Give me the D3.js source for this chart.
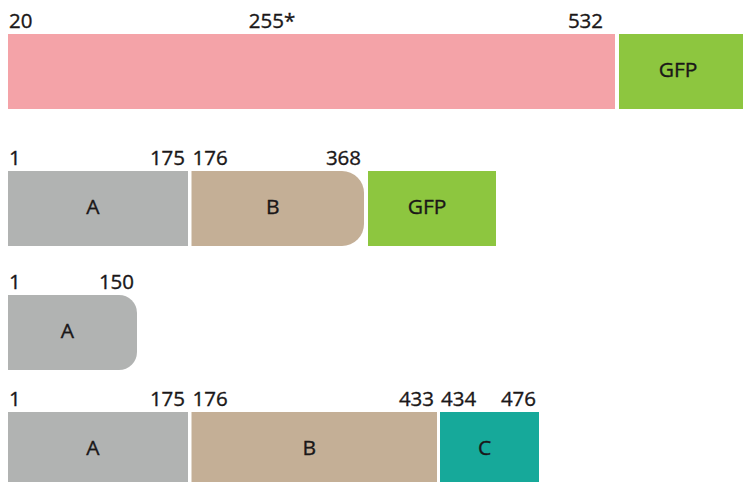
<!DOCTYPE html>
<html>
<head>
<meta charset="utf-8">
<script src="https://cdnjs.cloudflare.com/ajax/libs/d3/7.8.5/d3.min.js"></script>
<style>
  body { margin: 0; background: #fff; }
  text { font-family: "Open Sans", sans-serif; fill: #1a1718; stroke: #1a1718; stroke-width: 0.35px; }
</style>
</head>
<body>
<div id="diagram"></div>
<script>
// construct data (residue numbers)
var rowNames = ["full", "AB368", "A150", "ABC"];
var segDomain = [["full", "GFP"], ["A", "B", "GFP"], ["A"], ["A", "B", "C"]];
var segStart = [[20, null], [1, 176, null], [1], [1, 176, 434]];
var segEnd = [[532, null], [175, 368, null], [150], [175, 433, 476]];
// domain cut short at its C-terminus (drawn with a rounded end)
var segTruncated = [[false, false], [false, true, false], [true], [false, false, false]];
var segLabel = [["", "GFP"], ["A", "B", "GFP"], ["A"], ["A", "B", "C"]];
var siteRow = [0];
var sitePos = [255];
var siteText = ["255*"];

var svgWidth = 743;
var svgHeight = 482;

var svg = d3.select("#diagram")
  .append("svg")
  .attr("width", svgWidth)
  .attr("height", svgHeight);

// schematic (not to scale) residue -> x scales
var xFull = d3.scaleLinear()
  .domain([20, 255, 532])
  .range([8, 272, 615]);

var xDom = d3.scaleLinear()
  .domain([1, 150, 175, 176, 368, 433, 434, 476])
  .range([8, 137, 188, 191.5, 364, 437, 440, 539]);

var yRow = d3.scaleOrdinal()
  .domain(rowNames)
  .range([34, 171, 295, 412]);

var color = d3.scaleOrdinal()
  .domain(["full", "A", "B", "C", "GFP"])
  .range(["#f4a3a8", "#b1b3b2", "#c4af96", "#16a99a", "#8dc63f"]);

var barH = 75;
var gfpW = 128;
var gap = 4;
var sx = 1.05;

// build segment list with x positions
var segs = [];
rowNames.forEach(function(name, i) {
  var xs = i === 0 ? xFull : xDom;
  var prevEnd = 8;
  segDomain[i].forEach(function(dom, j) {
    var x0, x1;
    if (dom === "GFP") {
      x0 = prevEnd + gap;
      x1 = x0 + gfpW;
    } else {
      x0 = xs(segStart[i][j]);
      x1 = xs(segEnd[i][j]);
    }
    prevEnd = x1;
    segs.push({
      row: name, dom: dom, x0: x0, x1: x1, y: yRow(name),
      start: segStart[i][j], end: segEnd[i][j],
      truncated: segTruncated[i][j], label: segLabel[i][j]
    });
  });
});

function segPath(d) {
  var y0 = d.y, y1 = d.y + barH;
  if (!d.truncated) {
    return `M${d.x0},${y0}H${d.x1}V${y1}H${d.x0}Z`;
  }
  var r = d.dom === "A" ? 18 : 22;
  return `M${d.x0},${y0}H${d.x1 - r}A${r},${r} 0 0 1 ${d.x1},${y0 + r}` +
    `V${y1 - r}A${r},${r} 0 0 1 ${d.x1 - r},${y1}H${d.x0}Z`;
}

// bars
svg.selectAll("path.seg")
  .data(segs)
  .enter()
  .append("path")
  .attr("class", "seg")
  .attr("d", segPath)
  .attr("fill", d => color(d.dom));

// domain names
svg.selectAll("text.segName")
  .data(segs.filter(d => d.label))
  .enter()
  .append("text")
  .attr("class", "segName")
  .attr("transform", d => `translate(${(d.x0 + d.x1) / 2 - 5}, ${d.y + barH / 2 + 5}) scale(${sx},1)`)
  .attr("text-anchor", "middle")
  .style("font-size", "20px")
  .text(d => d.label);

// residue numbers above bars
var numLabels = [];
segs.forEach(function(d) {
  if (d.start == null) return;
  numLabels.push({ x: d.x0 + 1, y: d.y - 6, anchor: "start", text: d.start });
  numLabels.push({ x: d.x1 - (d.row === "full" ? 12 : 3), y: d.y - 6, anchor: "end", text: d.end });
});
siteRow.forEach(function(r, i) {
  numLabels.push({ x: xFull(sitePos[i]), y: yRow(rowNames[r]) - 6, anchor: "middle", text: siteText[i] });
});

svg.selectAll("text.num")
  .data(numLabels)
  .enter()
  .append("text")
  .attr("class", "num")
  .attr("transform", d => `translate(${d.x}, ${d.y}) scale(${sx},1)`)
  .attr("text-anchor", d => d.anchor)
  .style("font-size", "19.5px")
  .text(d => d.text);
</script>
</body>
</html>
